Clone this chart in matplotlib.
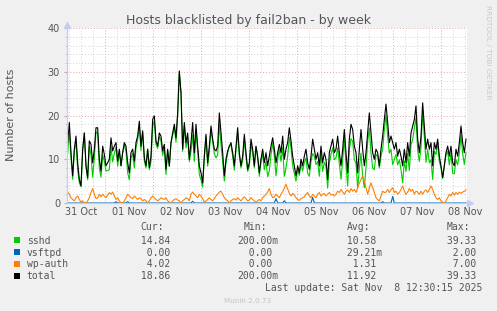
import numpy as np
import matplotlib
matplotlib.use("Agg")
import matplotlib.pyplot as plt
from matplotlib.patches import Rectangle

# samples every 50 minutes, time in hours since 31 Oct 00:00
start_hour = 5.33
step_hour = 50 / 60.0

total_hosts = [
    13.8, 18.4, 11.5, 6.2, 12.3, 15.3, 9.2, 5.4, 3.9, 12.3, 16.0, 8.5, 5.8, 14.2, 13.4, 9.2,
    12.3, 17.2, 17.2, 10.0, 7.3, 13.0, 11.1, 8.5, 9.2, 10.0, 14.9, 11.9, 13.0, 13.8, 9.6, 12.3,
    8.5, 11.5, 13.8, 13.0, 9.2, 6.9, 11.5, 12.3, 9.6, 13.8, 15.3, 18.7, 13.0, 16.5, 10.4, 8.5,
    12.3, 8.1, 10.7, 19.1, 19.9, 14.2, 13.0, 16.0, 15.3, 11.9, 13.4, 7.7, 12.3, 8.5, 13.8, 16.0,
    18.0, 14.9, 20.6, 30.2, 25.2, 12.3, 18.4, 13.8, 16.0, 10.0, 13.8, 18.4, 11.5, 18.0, 13.0, 8.5,
    6.9, 4.6,
    10.7, 15.7, 9.2, 13.0, 17.6, 14.6, 12.3, 11.9, 13.0, 20.6, 16.0, 11.5, 6.2, 10.0, 11.9, 13.0,
    13.8, 11.5, 8.5, 13.0, 17.2, 11.5, 8.5, 10.7, 15.7, 11.5, 7.7, 9.2, 14.6, 12.3, 8.5, 13.0,
    10.7, 6.9, 10.0, 12.3, 9.2, 11.5, 8.5, 10.7, 13.0, 14.9, 12.3, 9.2, 11.5, 13.4, 11.5, 15.3,
    10.0, 12.3, 13.8, 17.2, 14.2, 10.7, 8.5, 6.2, 8.5, 6.9, 10.0, 8.5, 10.7, 12.3, 9.2, 7.7,
    10.7, 14.6, 12.3, 10.0, 11.5, 8.5, 13.0, 9.2, 11.5, 10.0, 5.4, 11.5, 13.0, 14.6, 11.5,
    12.3, 15.3, 11.5, 8.5, 12.3, 16.8, 11.5, 6.9, 14.6, 18.0, 16.8, 13.0, 11.5, 6.9, 12.3, 16.8,
    12.3, 8.5, 11.5, 16.0, 20.6, 16.0, 11.5, 10.0, 12.3, 11.5, 8.5, 12.3, 15.3, 19.1, 22.6, 18.4,
    13.8, 15.3, 13.8, 12.3, 13.8, 10.7, 12.3, 10.7, 8.5, 12.3, 9.2, 13.8, 10.7, 16.0, 17.6, 19.1,
    22.2, 14.6, 11.5, 15.3, 22.9, 17.6, 12.3, 14.6, 12.3, 13.8, 8.5, 13.8, 12.3, 14.6, 10.7, 8.5,
    5.8, 8.5, 11.5, 13.0, 10.7, 13.0, 9.2, 8.5, 12.3, 10.7, 13.8, 17.6, 13.8, 11.5, 14.6,
]

wp_auth = [
    2.5, 2.0, 1.2, 0.8, 0.5, 1.2, 1.6, 0.8, 0.2, 0.5, 0.0, 0.0, 0.5, 1.2, 2.4, 3.3,
    2.0, 1.0, 1.2, 2.0, 1.4, 2.0, 1.6, 1.2, 1.8, 2.4, 2.0, 2.5, 1.6, 0.8, 1.2, 0.5,
    0.0, 0.0, 0.5, 1.2, 2.0, 1.6, 1.2, 1.0, 1.6, 1.2, 0.8, 1.2, 1.0, 0.5, 0.8, 0.5,
    0.0, 0.5, 1.2, 1.6, 1.2, 0.8, 0.5, 0.8, 1.2, 1.0, 0.8, 1.2, 0.5, 0.2, 0.0, 0.5,
    0.8, 1.0, 0.7, 0.5, 0.0, 0.5, 0.8, 1.2, 1.0, 0.5, 2.0, 2.5, 2.0, 1.6, 1.2, 2.0,
    1.6, 1.0,
    0.2, 0.5, 0.8, 1.2, 0.8, 0.5, 1.0, 1.6, 2.0, 2.5, 2.7, 2.0, 1.2, 0.8, 0.5, 0.0,
    0.5, 0.8, 1.0, 0.7, 1.2, 0.8, 0.5, 1.0, 1.4, 1.0, 0.5, 0.7, 1.2, 0.8, 0.5, 0.2,
    0.5, 0.8, 0.5, 1.2, 1.6, 2.0, 2.5, 3.3, 2.0, 1.2, 1.4, 2.0, 1.6, 1.2, 2.0, 2.6,
    3.4, 4.3, 3.2, 2.2, 1.6, 2.2, 1.8, 1.2, 0.8, 0.6, 1.0, 1.2, 1.4, 2.0, 2.4, 1.6,
    1.2, 2.0, 1.6, 1.2, 2.0, 2.4, 1.6, 2.0, 2.2, 1.6, 2.0, 2.4, 1.8, 2.0, 1.6,
    2.0, 2.7, 2.4, 3.1, 2.5, 2.0, 2.7, 3.0, 2.4, 3.3, 2.7, 3.1, 2.4, 3.5, 4.5, 5.4,
    6.2, 5.0, 3.5, 2.0, 3.5, 4.6, 3.5, 2.4, 1.2, 0.8, 0.5, 1.6, 2.7, 2.4, 2.5, 3.1,
    2.4, 3.0, 3.5, 2.4, 2.7, 2.0, 2.4, 3.1, 3.9, 2.7, 2.0, 2.5, 3.3, 2.7, 3.1, 2.0,
    2.7, 2.5, 2.0, 2.7, 2.0, 2.7, 3.0, 2.4, 3.1, 3.9, 3.1, 2.0, 1.2, 0.8, 1.2, 0.5,
    0.2, 0.0, 0.5, 1.2, 2.0, 1.6, 2.4, 1.8, 2.4, 2.0, 2.5, 2.2, 2.5, 2.7, 3.0,
]

# vsftpd is zero except for a few samples
vsftpd_at = [29, 36, 75, 125, 130, 147, 189, 195]
vsftpd_val = [0.3, 0.3, 0.4, 1.0, 0.5, 1.3, 0.3, 1.5]

day_labels = ["31 Oct", "01 Nov", "02 Nov", "03 Nov", "04 Nov",
              "05 Nov", "06 Nov", "07 Nov", "08 Nov"]
y_ticks = [0, 10, 20, 30, 40]

legend_names = ["sshd", "vsftpd", "wp-auth", "total"]
legend_colors = ["#00cc00", "#0066b3", "#ff8000", "#000000"]
legend_cur = ["14.84", "0.00", "4.02", "18.86"]
legend_min = ["200.00m", "0.00", "0.00", "200.00m"]
legend_avg = ["10.58", "29.21m", "1.31", "11.92"]
legend_max = ["39.33", "2.00", "7.00", "39.33"]

W, H = 497, 311
TXT = "#555555"
MONO = "DejaVu Sans Mono"

fig = plt.figure(figsize=(W / 100, H / 100), dpi=100, facecolor="#f0f0f0")
ax = fig.add_axes([67 / W, (H - 203) / H, 400 / W, 175 / H])
ax.set_facecolor("white")

hours = start_hour + step_hour * np.arange(len(total_hosts))
total = np.array(total_hosts)
wp = np.array(wp_auth)
vs = np.zeros(len(total))
vs[vsftpd_at] = vsftpd_val
sshd = total - wp - vs

ax.set_xlim(5, 205)
ax.set_ylim(0, 40)

# rrdtool style dotted grid: minor grey, major red
for h in np.arange(6, 205, 6):
    c = "#eba3a3" if h % 24 == 0 else "#d4d4d4"
    ax.axvline(h, color=c, lw=0.7, ls=(0, (1, 2)), zorder=0)
for v in np.arange(2, 41, 2):
    c = "#eba3a3" if v % 10 == 0 else "#d4d4d4"
    ax.axhline(v, color=c, lw=0.7, ls=(0, (1, 2)), zorder=0)

ax.plot(hours, sshd, color=legend_colors[0], lw=0.8)
ax.plot(hours, vs, color=legend_colors[1], lw=0.8)
ax.plot(hours, wp, color=legend_colors[2], lw=0.8)
ax.plot(hours, total, color=legend_colors[3], lw=0.8)

ax.set_xticks([12 + 24 * k for k in range(len(day_labels))], day_labels)
ax.set_yticks(y_ticks, [str(t) for t in y_ticks])
ax.set_yticks(np.arange(0, 41, 2), minor=True)
ax.tick_params(axis="x", length=0, pad=3.2, labelsize=7, labelcolor=TXT)
ax.tick_params(axis="y", which="major", length=2, color="#b0b0b0", pad=3,
               labelsize=7, labelcolor=TXT)
ax.tick_params(axis="y", which="minor", length=1.2, color="#c8c8c8")

for s in ["top", "right"]:
    ax.spines[s].set_visible(False)
for s in ["left", "bottom"]:
    ax.spines[s].set_color("#c4ccf2")
    ax.spines[s].set_linewidth(0.9)
ax.plot([0], [1 + 3 / 175], marker="^", ms=4, color="#c4ccf2",
        transform=ax.transAxes, clip_on=False)
ax.plot([1 + 3 / 400], [0], marker=">", ms=4, color="#c4ccf2",
        transform=ax.transAxes, clip_on=False)

fig.text(0.5, (H - 24) / H, "Hosts blacklisted by fail2ban - by week",
         ha="center", va="baseline", fontsize=9, color=TXT)
fig.text(11 / W, (H - 115) / H, "Number of hosts", rotation=90,
         ha="center", va="center", fontsize=8, color=TXT)
fig.text(488 / W, (H - 5) / H, "RRDTOOL / TOBI OETIKER", rotation=270,
         ha="center", va="top", fontsize=5.3, color="#c8c8c8")

# legend block
cw = 5.87
col_x = [134.8, 237.3, 340.8, 440.8]
heads = ["Cur:", "Min:", "Avg:", "Max:"]
for x, hd in zip(col_x, heads):
    fig.text((x + cw) / W, (H - 230.2) / H, hd, ha="left", va="baseline",
             fontsize=7, family=MONO, color=TXT)

def fmt(s):
    if s.endswith("m"):
        return s[:-1].rjust(6) + "m"
    return s.rjust(6) + " "

row_y = [243.5, 255.8, 267.2, 279.2]
for i, name in enumerate(legend_names):
    yb = row_y[i]
    fig.add_artist(Rectangle((14 / W, (H - yb + 0.5) / H), 6 / W, 6 / H,
                             transform=fig.transFigure, color=legend_colors[i], lw=0))
    fig.text(26.7 / W, (H - yb) / H, name, ha="left", va="baseline",
             fontsize=7, family=MONO, color=TXT)
    vals = [legend_cur[i], legend_min[i], legend_avg[i], legend_max[i]]
    for x, v in zip(col_x, vals):
        fig.text(x / W, (H - yb) / H, fmt(v), ha="left", va="baseline",
                 fontsize=7, family=MONO, color=TXT)

fig.text(482.5 / W, (H - 291.2) / H, "Last update: Sat Nov  8 12:30:15 2025",
         ha="right", va="baseline", fontsize=7, family=MONO, color=TXT)
fig.text(248 / W, (H - 300.7) / H, "Munin 2.0.73", ha="center", va="center",
         fontsize=5.2, color="#c4c4c4")

fig.savefig("out.png", dpi=100, facecolor=fig.get_facecolor())
